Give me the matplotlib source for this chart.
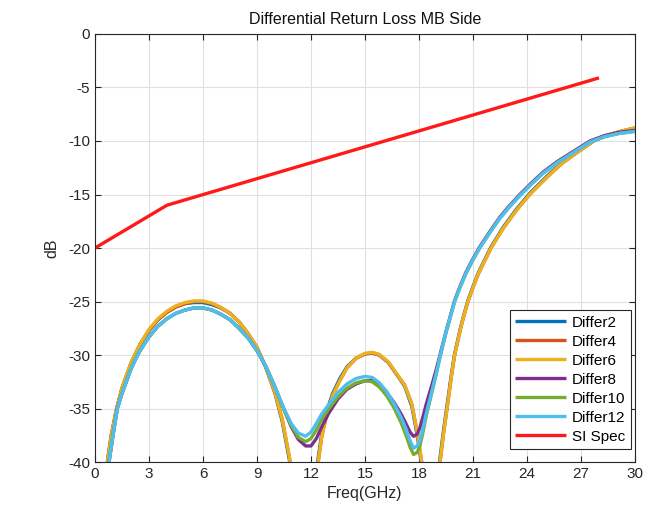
import matplotlib
matplotlib.use("Agg")
import matplotlib.pyplot as plt

plt.rcParams['font.family'] = ['Liberation Sans', 'DejaVu Sans']
plt.rcParams['axes.unicode_minus'] = False

# frequency grids (GHz)
f_a = [0.45, 0.7, 0.9, 1.2, 1.5, 2.0, 2.5, 3.0, 3.5, 4.0, 4.5, 5.0, 5.5, 6.0, 6.5, 7.0,
       7.5, 8.0, 8.5, 9.0, 9.5, 10.0, 10.4, 10.8, 11.1, 11.6, 12.1, 12.4, 12.6, 12.9, 13.2,
       13.6, 14.0, 14.5, 15.0, 15.4, 15.8, 16.3, 16.8, 17.2, 17.6, 17.9, 18.15, 18.4, 18.8,
       19.17, 19.35, 19.6, 19.8, 19.98, 20.3, 20.5, 20.72, 21.0, 21.3, 22.0, 22.7, 23.4,
       24.15, 24.8, 25.35, 26.0, 26.75, 27.7, 28.4, 29.2, 30.0]
f_b = [0.6, 0.78, 1.0, 1.24, 1.5, 2.0, 2.31, 2.5, 3.0, 3.5, 4.0, 4.5, 5.0, 5.5, 6.0, 6.5,
       7.0, 7.5, 8.0, 8.5, 9.0, 9.5, 10.0, 10.5, 10.9, 11.3, 11.7, 12.0, 12.3, 12.6, 13.0,
       13.5, 14.0, 14.5, 15.0, 15.4, 15.8, 16.2, 16.6, 17.0, 17.3, 17.5, 17.7, 17.9, 18.05,
       18.2, 18.4, 18.7, 18.95, 19.15, 19.5, 19.7, 19.98, 20.3, 20.6, 21.0, 21.37, 22.0,
       22.5, 23.0, 23.6, 24.2, 24.9, 25.7, 26.55, 27.5, 28.3, 29.1, 30.0]

differ2 = [-45.5, -39.8, -37.5, -35.0, -33.1, -30.8, -29.0, -27.7, -26.7, -26.0, -25.5, -25.2,
           -25.1, -25.1, -25.3, -25.6, -26.1, -26.9, -28.0, -29.3, -31.2, -33.6, -36.2, -39.8,
           -44.0, -55.0, -43.5, -39.6, -37.3, -35.1, -33.6, -32.2, -31.1, -30.3, -29.9, -29.8,
           -30.0, -30.7, -31.9, -32.9, -34.8, -37.5, -40.3, -44.0, -55.0, -39.6, -37.2, -34.2,
           -31.8, -29.9, -27.5, -26.2, -24.9, -23.6, -22.3, -19.9, -18.0, -16.4, -14.9, -13.8,
           -12.9, -12.0, -11.1, -10.0, -9.5, -9.1, -8.8]
differ4 = [-45.5, -39.9, -37.6, -35.05, -33.1, -30.75, -29.0, -27.7, -26.7, -26.0, -25.5, -25.2,
           -25.0, -25.0, -25.2, -25.6, -26.1, -26.9, -28.0, -29.3, -31.2, -33.5, -36.0, -39.6,
           -44.0, -55.0, -44.0, -40.0, -37.6, -35.4, -33.8, -32.4, -31.2, -30.3, -29.9, -29.8,
           -30.0, -30.7, -31.9, -32.8, -34.6, -37.2, -40.0, -44.0, -55.0, -40.0, -37.5, -34.5,
           -32.0, -30.0, -27.6, -26.3, -25.0, -23.7, -22.4, -20.0, -18.1, -16.5, -15.0, -13.9,
           -13.0, -12.0, -11.1, -10.0, -9.5, -9.1, -8.8]
differ6 = [-45.5, -39.9, -37.6, -35.0, -33.1, -30.7, -29.0, -27.6, -26.6, -25.9, -25.4, -25.1,
           -24.95, -24.95, -25.15, -25.55, -26.1, -26.9, -28.0, -29.3, -31.2, -33.5, -36.0, -39.5,
           -44.0, -55.0, -44.0, -40.0, -37.6, -35.4, -33.8, -32.4, -31.2, -30.3, -29.85, -29.75,
           -29.95, -30.65, -31.85, -32.8, -34.6, -37.2, -40.0, -44.0, -55.0, -40.0, -37.5, -34.5,
           -32.0, -30.0, -27.6, -26.3, -25.0, -23.7, -22.4, -20.0, -18.1, -16.5, -15.0, -13.9,
           -13.0, -12.0, -11.1, -10.0, -9.5, -9.1, -8.75]
differ8 = [-43.5, -40.0, -37.5, -35.0, -33.6, -31.3, -30.2, -29.6, -28.3, -27.3, -26.6, -26.1,
           -25.8, -25.6, -25.6, -25.8, -26.2, -26.7, -27.5, -28.4, -29.6, -31.1, -33.0, -35.1,
           -36.7, -37.9, -38.5, -38.5, -37.8, -36.7, -35.4, -34.1, -33.2, -32.7, -32.4, -32.4,
           -32.8, -33.5, -34.4, -35.5, -36.5, -37.2, -37.6, -37.4, -36.8, -35.9, -34.6, -32.9,
           -31.4, -30.1, -27.8, -26.6, -24.9, -23.5, -22.3, -21.0, -19.9, -18.3, -17.1, -16.1,
           -15.0, -14.0, -12.9, -11.9, -11.0, -10.0, -9.5, -9.2, -9.0]
differ10 = [-43.5, -40.0, -37.5, -35.0, -33.6, -31.3, -30.2, -29.6, -28.3, -27.3, -26.6, -26.1,
            -25.8, -25.6, -25.6, -25.8, -26.2, -26.7, -27.5, -28.4, -29.6, -31.1, -33.0, -35.1,
            -36.6, -37.7, -38.1, -37.8, -37.0, -36.0, -35.0, -33.9, -33.1, -32.6, -32.4, -32.5,
            -33.0, -33.8, -34.9, -36.3, -37.6, -38.6, -39.3, -39.1, -38.5, -37.4, -35.7, -33.6,
            -31.8, -30.3, -27.9, -26.7, -25.0, -23.6, -22.4, -21.1, -20.0, -18.4, -17.2, -16.2,
            -15.1, -14.1, -13.0, -12.0, -11.1, -10.1, -9.6, -9.3, -9.1]
differ12 = [-43.5, -40.0, -37.5, -35.0, -33.6, -31.3, -30.2, -29.6, -28.3, -27.3, -26.6, -26.1,
            -25.8, -25.6, -25.6, -25.8, -26.2, -26.7, -27.5, -28.4, -29.6, -31.1, -33.0, -35.0,
            -36.4, -37.3, -37.6, -37.2, -36.4, -35.5, -34.6, -33.5, -32.7, -32.2, -32.0, -32.1,
            -32.6, -33.4, -34.5, -35.8, -37.0, -38.0, -38.7, -38.5, -38.0, -37.0, -35.5, -33.5,
            -31.8, -30.3, -27.9, -26.7, -25.0, -23.6, -22.4, -21.1, -20.0, -18.4, -17.2, -16.2,
            -15.1, -14.1, -13.0, -12.0, -11.1, -10.1, -9.6, -9.3, -9.1]

f_spec = [0, 4, 28]
si_spec = [-20, -16, -4.1]

series = [
    ("Differ2", f_a, differ2, "#0072BD"),
    ("Differ4", f_a, differ4, "#D95319"),
    ("Differ6", f_a, differ6, "#EDB120"),
    ("Differ8", f_b, differ8, "#7E2F8E"),
    ("Differ10", f_b, differ10, "#77AC30"),
    ("Differ12", f_b, differ12, "#4DBEEE"),
    ("SI Spec", f_spec, si_spec, "#FF1A1A"),
]

fig = plt.figure(figsize=(6.68, 5.17), dpi=100)
ax = fig.add_axes([95 / 668, 55 / 517, 540 / 668, 428 / 517])

for name, x, y, c in series:
    ax.plot(x, y, color=c, lw=2.4, label=name, solid_joinstyle='round',
            solid_capstyle='butt')

ax.set_xlim(0, 30)
ax.set_ylim(-40, 0)
ax.set_xticks(range(0, 31, 3))
ax.set_yticks(range(-40, 1, 5))
ax.grid(True, color='#e0e0e0', lw=0.8)
ax.set_axisbelow(True)
ax.tick_params(direction='in', top=True, right=True, labelsize=11,
               colors='#262626', length=4, width=0.8)
for s in ax.spines.values():
    s.set_color('#262626')
    s.set_linewidth(0.8)

ax.set_title("Differential Return Loss MB Side", fontsize=11.5, color='#111111', pad=7)
ax.set_xlabel("Freq(GHz)", fontsize=11.5, color='#262626', labelpad=4)
ax.set_ylabel("dB", fontsize=11.5, color='#262626', labelpad=6)

leg = ax.legend(loc='lower right', bbox_to_anchor=(0.992, 0.03), fontsize=11,
                handlelength=3.3, labelspacing=0.33, borderaxespad=0,
                handletextpad=0.4, borderpad=0.35, fancybox=False, framealpha=1)
leg.get_frame().set_edgecolor('#262626')
leg.get_frame().set_linewidth(0.8)

fig.savefig("out.png", dpi=100)
